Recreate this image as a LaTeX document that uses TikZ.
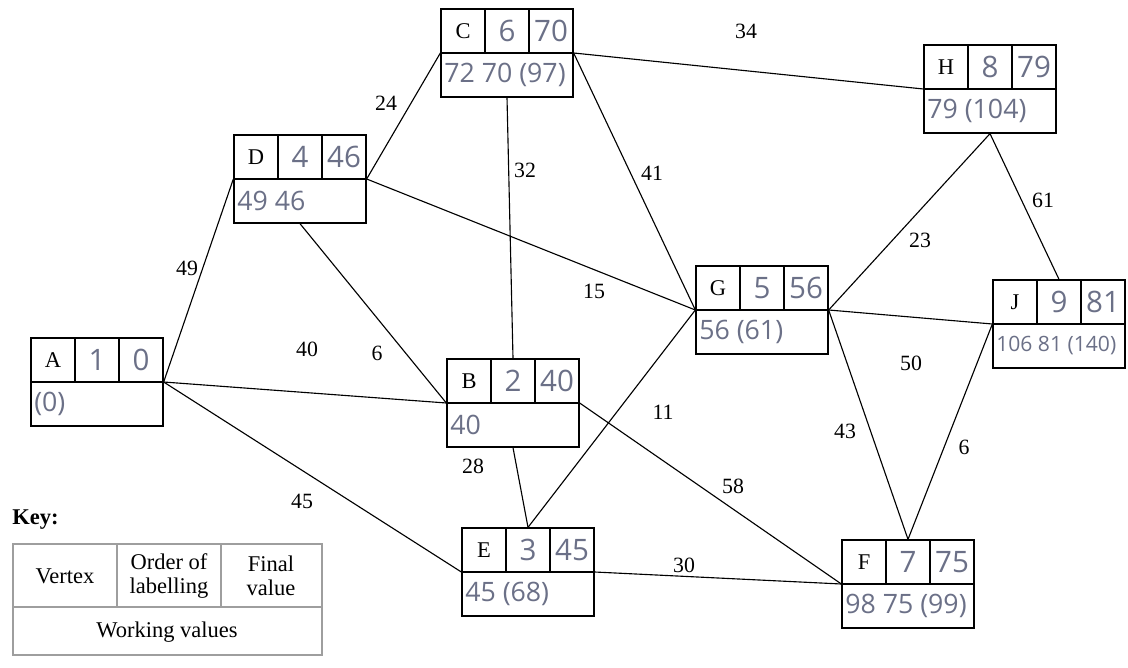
\documentclass[tikz,border=0pt]{standalone}
\usepackage{fontspec}
\setmainfont{Liberation Serif}
\newfontfamily\handfont{Open Sans}
\usetikzlibrary{calc}
\definecolor{pencil}{rgb}{0.42,0.44,0.53}
\definecolor{keyline}{rgb}{0.62,0.62,0.62}
\tikzset{
	vbox/.style={draw, rectangle, minimum width=3.3cm, minimum height=2.2cm, inner sep=0pt, line width=0.9pt},
	vname/.style={font=\fontsize{16}{18}\selectfont, inner sep=0pt},
	vhand/.style={font=\handfont\fontsize{21}{23}\selectfont, text=pencil, inner sep=0pt},
	vwork/.style={font=\handfont\fontsize{19}{21}\selectfont, text=pencil, inner sep=0pt, anchor=west},
	edge/.style={line width=0.8pt},
	elabel/.style={font=\fontsize{15.5}{17}\selectfont, inner sep=1pt},
	keytext/.style={font=\fontsize{16}{18}\selectfont, inner sep=0pt, align=center}
}
% one vertex: name, centre x, centre y, letter, order, final, working values
\newcommand{\vertexbox}[7]{%
	\node[vbox] (#1) at (#2,#3) {};
	\draw[line width=0.9pt] (#1.west) -- (#1.east);
	\draw[line width=0.9pt] (#2-22,#3-44) -- (#2-22,#3);
	\draw[line width=0.9pt] (#2+22,#3-44) -- (#2+22,#3);
	\node[vname] (#1-v) at (#2-44,#3-22) {#4};
	\node[vhand] (#1-o) at (#2,#3-22) {#5};
	\node[vhand] (#1-f) at (#2+44,#3-22) {#6};
	\node[vwork] (#1-w) at (#2-63,#3+22) {#7};
}
\begin{document}
\begin{tikzpicture}[x=0.025cm, y=-0.025cm]
	\useasboundingbox (0,0) rectangle (1128,668);
	
	% Vertices
	\vertexbox{A}{97}{382}{A}{1}{0}{(0)}
	\vertexbox{B}{513}{403}{B}{2}{40}{40}
	\vertexbox{C}{507}{53}{C}{6}{70}{72 70 (97)}
	\vertexbox{D}{300}{179}{D}{4}{46}{49 46}
	\vertexbox{E}{528}{572}{E}{3}{45}{45 (68)}
	\vertexbox{F}{908}{584}{F}{7}{75}{98 75 (99)}
	\vertexbox{G}{762}{310}{G}{5}{56}{56 (61)}
	\vertexbox{H}{990}{89}{H}{8}{79}{79 (104)}
	\vertexbox{J}{1059}{324}{J}{9}{81}{\fontsize{15}{17}\selectfont 106 81 (140)}
	
	% Edges
	\draw[edge] (A.east) -- (D.west);
	\draw[edge] (A.east) -- (B.west);
	\draw[edge] (A.east) -- (E.west);
	\draw[edge] (D.east) -- (C.west);
	\draw[edge] (D.east) -- (G.west);
	\draw[edge] (D.south) -- (B.west);
	\draw[edge] (C.south) -- (B.north);
	\draw[edge] (C.east) -- (H.west);
	\draw[edge] (C.east) -- (G.west);
	\draw[edge] (B.south) -- (E.north);
	\draw[edge] (B.east) -- (F.west);
	\draw[edge] (E.east) -- (F.west);
	\draw[edge] (G.west) -- (E.north);
	\draw[edge] (G.east) -- (H.south);
	\draw[edge] (G.east) -- (J.west);
	\draw[edge] (G.east) -- (F.north);
	\draw[edge] (H.south) -- (J.north);
	\draw[edge] (J.west) -- (F.north);
	
	% Edge weights
	\node[elabel] (w-AD) at (187,268) {49};
	\node[elabel] (w-AB) at (307,349) {40};
	\node[elabel] (w-AE) at (302,501) {45};
	\node[elabel] (w-DC) at (386,103) {24};
	\node[elabel] (w-DG) at (594,291) {15};
	\node[elabel] (w-DB) at (377,353) {6};
	\node[elabel] (w-CB) at (525,170) {32};
	\node[elabel] (w-CH) at (746,31) {34};
	\node[elabel] (w-CG) at (652,173) {41};
	\node[elabel] (w-BE) at (473,466) {28};
	\node[elabel] (w-BF) at (733,486) {58};
	\node[elabel] (w-EF) at (684,565) {30};
	\node[elabel] (w-GE) at (663,412) {11};
	\node[elabel] (w-GH) at (920,240) {23};
	\node[elabel] (w-GJ) at (911,363) {50};
	\node[elabel] (w-GF) at (845,431) {43};
	\node[elabel] (w-HJ) at (1043,200) {61};
	\node[elabel] (w-JF) at (964,447) {6};
	
	% Key
	\node[font=\bfseries\fontsize{16}{18}\selectfont, anchor=west, inner sep=0pt] (key) at (12,520) {Key:};
	\draw[keyline, line width=1.1pt] (13,544) rectangle (322,655);
	\draw[keyline, line width=1.1pt] (13,607) -- (322,607);
	\draw[keyline, line width=1.1pt] (117,544) -- (117,607);
	\draw[keyline, line width=1.1pt] (221,544) -- (221,607);
	\node[keytext] (k-vertex) at (65,576) {Vertex};
	\node[keytext] (k-order) at (169,576) {Order of\\[-1pt]labelling};
	\node[keytext] (k-final) at (271,576) {Final\\[-1pt]value};
	\node[keytext] (k-work) at (167,632) {Working values};
\end{tikzpicture}
\end{document}
